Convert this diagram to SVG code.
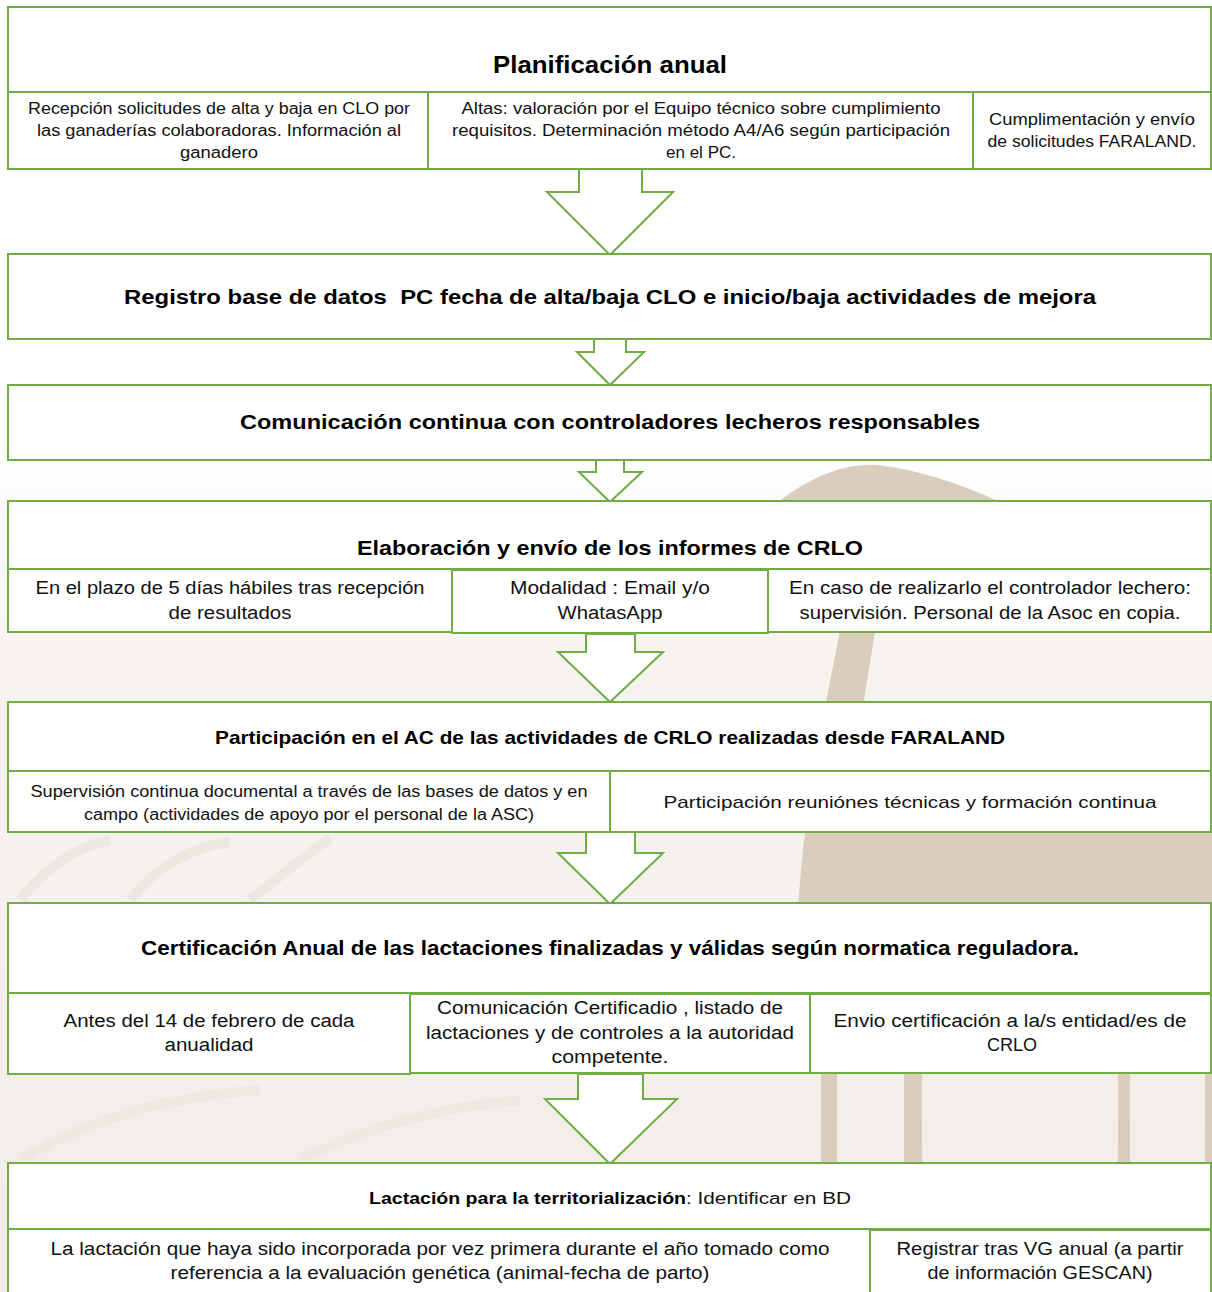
<svg xmlns="http://www.w3.org/2000/svg" width="1212" height="1292" viewBox="0 0 1212 1292">
<defs>
<linearGradient id="wash" x1="0" y1="0" x2="0" y2="1">
<stop offset="0" stop-color="#ffffff"/>
<stop offset="0.25" stop-color="#f7f4f0"/>
<stop offset="1" stop-color="#f1ece6"/>
</linearGradient>
<style>
.box{fill:#ffffff;stroke:#70ad47;stroke-width:2}
.arrow{fill:#ffffff;stroke:#70ad47;stroke-width:2;stroke-linejoin:miter}
.t{font-family:"Liberation Sans",Arial,sans-serif;fill:#111;text-anchor:middle}
.b{font-family:"Liberation Sans",Arial,sans-serif;font-weight:bold;fill:#000;text-anchor:middle}
.tan{fill:#dbcdbd}
.lite{fill:none;stroke:#ebe5dd;stroke-width:10}
</style>
</defs>
<g id="background">
<rect x="0" y="0" width="1212" height="1292" fill="#ffffff"/>
<rect x="0" y="440" width="1212" height="852" fill="url(#wash)"/>
<path class="tan" d="M 778 502 Q 830 462 878 465 Q 935 472 1000 502 Z"/>
<path class="lite" d="M 20 900 Q 60 850 110 840 M 130 900 Q 170 850 230 842 M 250 900 Q 300 860 330 838" opacity="0.8"/>
<path class="lite" d="M 20 1160 Q 120 1100 260 1090 M 300 1160 Q 400 1110 520 1100" opacity="0.6"/>
<path class="tan" d="M 846 600 L 880 600 L 864 700 Q 1000 760 1212 780 L 1212 995 L 796 995 Q 794 860 826 702 Z"/>
<rect class="tan" x="821" y="1070" width="16" height="100"/>
<rect class="tan" x="904" y="1070" width="18" height="100"/>
<rect class="tan" x="1118" y="1070" width="12" height="100"/>
<rect class="tan" x="1205" y="1070" width="7" height="100"/>
</g>
<g id="connectors">
<polygon class="arrow" points="579,169 579,192 547,192 610,255 673,192 642,192 642,169"/>
<polygon class="arrow" points="594,339 594,352 577,352 610,385 644,352 626,352 626,339"/>
<polygon class="arrow" points="596,460 596,472 579,472 610,502 642,472 624,472 624,460"/>
<polygon class="arrow" points="586,634 586,652 558,652 610,702 663,652 635,652 635,634"/>
<polygon class="arrow" points="586,832 586,853 558,853 610,904 663,853 635,853 635,832"/>
<polygon class="arrow" points="578,1074 578,1099 545,1099 610,1164 677,1099 643,1099 643,1074"/>
</g>
<g id="node-planificacion">
<rect class="box" x="8" y="7" width="1203" height="85"/>
<text class="b" x="610" y="73" font-size="24" textLength="234" lengthAdjust="spacingAndGlyphs">Planificación anual</text>
<rect class="box" x="8" y="92" width="420" height="77"/>
<rect class="box" x="428" y="92" width="545" height="77"/>
<rect class="box" x="973" y="92" width="238" height="77"/>
<text class="t" x="219" y="113.5" font-size="16" textLength="382" lengthAdjust="spacingAndGlyphs">Recepción solicitudes de alta y baja en CLO por</text>
<text class="t" x="219" y="135.5" font-size="16" textLength="364" lengthAdjust="spacingAndGlyphs">las ganaderías colaboradoras. Información al</text>
<text class="t" x="219" y="157.5" font-size="16" textLength="78" lengthAdjust="spacingAndGlyphs">ganadero</text>
<text class="t" x="701" y="113.5" font-size="16" textLength="479" lengthAdjust="spacingAndGlyphs">Altas: valoración por el Equipo técnico sobre cumplimiento</text>
<text class="t" x="701" y="135.5" font-size="16" textLength="498" lengthAdjust="spacingAndGlyphs">requisitos. Determinación método A4/A6 según participación</text>
<text class="t" x="701" y="157.5" font-size="16" textLength="70" lengthAdjust="spacingAndGlyphs">en el PC.</text>
<text class="t" x="1092" y="124.5" font-size="16" textLength="206" lengthAdjust="spacingAndGlyphs">Cumplimentación y envío</text>
<text class="t" x="1092" y="146.5" font-size="16" textLength="209" lengthAdjust="spacingAndGlyphs">de solicitudes FARALAND.</text>
</g>
<g id="node-registro">
<rect class="box" x="8" y="254" width="1203" height="85"/>
<text class="b" x="610" y="303.5" font-size="21" textLength="972" lengthAdjust="spacingAndGlyphs">Registro base de datos&#160; PC fecha de alta/baja CLO e inicio/baja actividades de mejora</text>
</g>
<g id="node-comunicacion">
<rect class="box" x="8" y="385" width="1203" height="75"/>
<text class="b" x="610" y="428.5" font-size="21" textLength="740" lengthAdjust="spacingAndGlyphs">Comunicación continua con controladores lecheros responsables</text>
</g>
<g id="node-elaboracion">
<rect class="box" x="8" y="501" width="1203" height="68"/>
<text class="b" x="610" y="554.5" font-size="21" textLength="506" lengthAdjust="spacingAndGlyphs">Elaboración y envío de los informes de CRLO</text>
<rect class="box" x="8" y="569" width="444" height="63"/>
<rect class="box" x="768" y="569" width="443" height="63"/>
<rect class="box" x="452" y="570" width="316" height="63"/>
<text class="t" x="230" y="594.3" font-size="18" textLength="389" lengthAdjust="spacingAndGlyphs">En el plazo de 5 días hábiles tras recepción</text>
<text class="t" x="230" y="619.3" font-size="18" textLength="123" lengthAdjust="spacingAndGlyphs">de resultados</text>
<text class="t" x="610" y="594.3" font-size="18" textLength="200" lengthAdjust="spacingAndGlyphs">Modalidad : Email y/o</text>
<text class="t" x="610" y="619.3" font-size="18" textLength="105" lengthAdjust="spacingAndGlyphs">WhatasApp</text>
<text class="t" x="990" y="594.3" font-size="18" textLength="402" lengthAdjust="spacingAndGlyphs">En caso de realizarlo el controlador lechero:</text>
<text class="t" x="990" y="619.3" font-size="18" textLength="381" lengthAdjust="spacingAndGlyphs">supervisión. Personal de la Asoc en copia.</text>
</g>
<g id="node-participacion">
<rect class="box" x="8" y="702" width="1203" height="69"/>
<text class="b" x="610" y="743.5" font-size="19" textLength="790" lengthAdjust="spacingAndGlyphs">Participación en el AC de las actividades de CRLO realizadas desde FARALAND</text>
<rect class="box" x="8" y="771" width="602" height="61"/>
<rect class="box" x="610" y="771" width="601" height="61"/>
<text class="t" x="309" y="796.6" font-size="16" textLength="557" lengthAdjust="spacingAndGlyphs">Supervisión continua documental a través de las bases de datos y en</text>
<text class="t" x="309" y="819.6" font-size="16" textLength="450" lengthAdjust="spacingAndGlyphs">campo (actividades de apoyo por el personal de la ASC)</text>
<text class="t" x="910" y="807.6" font-size="17" textLength="493" lengthAdjust="spacingAndGlyphs">Participación reuniónes técnicas y formación continua</text>
</g>
<g id="node-certificacion">
<rect class="box" x="8" y="903" width="1203" height="90"/>
<text class="b" x="610" y="955" font-size="20" textLength="938" lengthAdjust="spacingAndGlyphs">Certificación Anual de las lactaciones finalizadas y válidas según normatica reguladora.</text>
<rect class="box" x="8" y="993" width="402" height="81"/>
<rect class="box" x="410" y="994" width="400" height="79"/>
<rect class="box" x="810" y="994" width="401" height="79"/>
<text class="t" x="209" y="1027.3" font-size="18" textLength="291" lengthAdjust="spacingAndGlyphs">Antes del 14 de febrero de cada</text>
<text class="t" x="209" y="1051.3" font-size="18" textLength="89" lengthAdjust="spacingAndGlyphs">anualidad</text>
<text class="t" x="610" y="1014.3" font-size="18" textLength="346" lengthAdjust="spacingAndGlyphs">Comunicación Certificadio , listado de</text>
<text class="t" x="610" y="1039.3" font-size="18" textLength="368" lengthAdjust="spacingAndGlyphs">lactaciones y de controles a la autoridad</text>
<text class="t" x="610" y="1063.3" font-size="18" textLength="117" lengthAdjust="spacingAndGlyphs">competente.</text>
<text class="t" x="1010" y="1027.3" font-size="18" textLength="353" lengthAdjust="spacingAndGlyphs">Envio certificación a la/s entidad/es de</text>
<text class="t" x="1012" y="1051.3" font-size="18">CRLO</text>
</g>
<g id="node-lactacion">
<rect class="box" x="8" y="1163" width="1203" height="66"/>
<text class="b" x="527.5" y="1203.6" font-size="16" textLength="317" lengthAdjust="spacingAndGlyphs">Lactación para la territorialización</text>
<text class="t" x="768.5" y="1203.6" font-size="16" textLength="165" lengthAdjust="spacingAndGlyphs">: Identificar en BD</text>
<rect class="box" x="8" y="1229" width="862" height="80"/>
<rect class="box" x="870" y="1230" width="341" height="80"/>
<text class="t" x="440" y="1255.3" font-size="18" textLength="779" lengthAdjust="spacingAndGlyphs">La lactación que haya sido incorporada por vez primera durante el año tomado como</text>
<text class="t" x="440" y="1279.3" font-size="18" textLength="539" lengthAdjust="spacingAndGlyphs">referencia a la evaluación genética (animal-fecha de parto)</text>
<text class="t" x="1040" y="1255.3" font-size="18" textLength="287" lengthAdjust="spacingAndGlyphs">Registrar tras VG anual (a partir</text>
<text class="t" x="1040" y="1279.3" font-size="18" textLength="225" lengthAdjust="spacingAndGlyphs">de información GESCAN)</text>
</g>
</svg>
